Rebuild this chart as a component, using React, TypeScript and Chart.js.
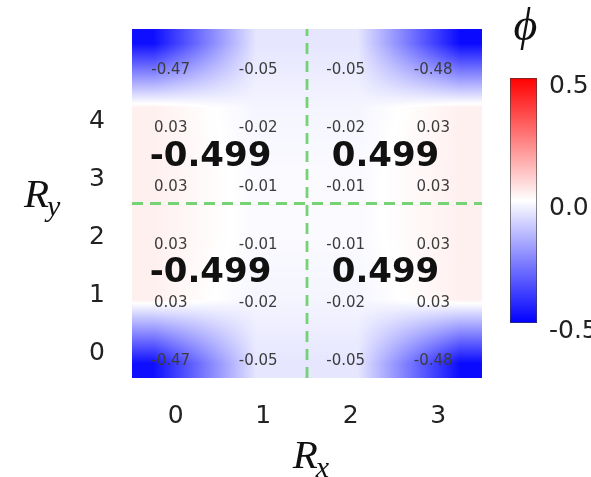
import React, { useEffect, useRef } from "react";
import { Chart, registerables } from "chart.js";

Chart.register(...registerables);

// ---- data ----
const xCategories = [0, 1, 2, 3];
const yTickLabels = [0, 1, 2, 3, 4];
// phi value of every site, rows from R_y = 0 (bottom) to R_y = 5 (top)
const phiRow0 = [-0.47, -0.05, -0.05, -0.48];
const phiRow1 = [0.03, -0.02, -0.02, 0.03];
const phiRow2 = [0.03, -0.01, -0.01, 0.03];
const phiRow3 = [0.03, -0.01, -0.01, 0.03];
const phiRow4 = [0.03, -0.02, -0.02, 0.03];
const phiRow5 = [-0.47, -0.05, -0.05, -0.48];
const phiRows = [phiRow0, phiRow1, phiRow2, phiRow3, phiRow4, phiRow5];
// plaquette values (big bold labels)
const plaquetteX = [0.5, 2.5, 0.5, 2.5];
const plaquetteY = [3.5, 3.5, 1.5, 1.5];
const plaquetteValues = [-0.499, 0.499, -0.499, 0.499];
// dashed dividers
const dividerX = [1.5];
const dividerY = [2.5];
// colour bar
const colorbarTicks = [0.5, 0.0, -0.5];
const vmin = -0.5;
const vmax = 0.5;

const SANS = '"DejaVu Sans", Verdana, sans-serif';
const SERIF = '"Liberation Serif", "DejaVu Serif", serif';

function bwr(v: number): [number, number, number] {
  let t = (v - vmin) / (vmax - vmin);
  t = Math.max(0, Math.min(1, t));
  if (t < 0.5) {
    const k = Math.round(2 * t * 255);
    return [k, k, 255];
  }
  const k = Math.round((2 - 2 * t) * 255);
  return [255, k, k];
}

// smooth (bilinear, image-style) rendering of the site grid
const heatmapPlugin = {
  id: "heatmap",
  beforeDatasetsDraw(chart: any) {
    const ctx = chart.ctx;
    const xs = chart.scales.x;
    const ys = chart.scales.y;
    const nCols = xCategories.length;
    const nRows = phiRows.length;
    const left = Math.round(xs.getPixelForValue(-0.5));
    const right = Math.round(xs.getPixelForValue(nCols - 0.5));
    const top = Math.round(ys.getPixelForValue(nRows - 0.5));
    const bottom = Math.round(ys.getPixelForValue(-0.5));
    const W = right - left;
    const H = bottom - top;
    const cw = W / nCols;
    const ch = H / nRows;
    const m = 0.25; // node inset, in cells
    const off = document.createElement("canvas");
    off.width = W;
    off.height = H;
    const octx = off.getContext("2d")!;
    const img = octx.createImageData(W, H);
    const clamp = (v: number, lo: number, hi: number) => Math.max(lo, Math.min(hi, v));
    for (let py = 0; py < H; py++) {
      const fy = clamp(((py + 0.5) - m * ch) / ((H - 2 * m * ch) / (nRows - 1)), 0, nRows - 1);
      const iy = Math.min(nRows - 2, Math.floor(fy));
      const ty = fy - iy;
      const rTop = phiRows[nRows - 1 - iy];
      const rBot = phiRows[nRows - 2 - iy];
      for (let px = 0; px < W; px++) {
        const fx = clamp(((px + 0.5) - m * cw) / ((W - 2 * m * cw) / (nCols - 1)), 0, nCols - 1);
        const ix = Math.min(nCols - 2, Math.floor(fx));
        const tx = fx - ix;
        const a = rTop[ix] * (1 - tx) + rTop[ix + 1] * tx;
        const b = rBot[ix] * (1 - tx) + rBot[ix + 1] * tx;
        const v = a * (1 - ty) + b * ty;
        const [R, G, B] = bwr(v);
        const idx = (py * W + px) * 4;
        img.data[idx] = R;
        img.data[idx + 1] = G;
        img.data[idx + 2] = B;
        img.data[idx + 3] = 255;
      }
    }
    octx.putImageData(img, 0, 0);
    ctx.save();
    ctx.drawImage(off, left, top);
    ctx.restore();
  },
};

const labelsPlugin = {
  id: "cellLabels",
  afterDatasetsDraw(chart: any) {
    const ctx = chart.ctx;
    const xs = chart.scales.x;
    const ys = chart.scales.y;
    ctx.save();
    ctx.textAlign = "center";
    ctx.textBaseline = "middle";
    ctx.font = `15px ${SANS}`;
    ctx.fillStyle = "#3c3c3c";
    for (let r = 0; r < phiRows.length; r++) {
      for (let c = 0; c < xCategories.length; c++) {
        const x = xs.getPixelForValue(xCategories[c]) - 5;
        const y = ys.getPixelForValue(r - 0.21);
        ctx.fillText(phiRows[r][c].toFixed(2), x, y);
      }
    }
    ctx.font = `bold 34px ${SANS}`;
    ctx.fillStyle = "#111";
    for (let i = 0; i < plaquetteValues.length; i++) {
      const x = xs.getPixelForValue(plaquetteX[i]) - 9;
      const y = ys.getPixelForValue(plaquetteY[i] - 0.2);
      ctx.fillText(plaquetteValues[i].toFixed(3), x, y);
    }
    ctx.restore();
  },
};

const decorPlugin = {
  id: "decor",
  afterDraw(chart: any) {
    const ctx = chart.ctx;
    const area = chart.chartArea;
    ctx.save();
    // colour bar
    const bx0 = area.right + 28;
    const bx1 = bx0 + 27;
    const by0 = area.top + 49;
    const by1 = area.bottom - 55;
    const grad = ctx.createLinearGradient(0, by0, 0, by1);
    const [r1, g1, b1] = bwr(vmax);
    const [r0, g0, b0] = bwr(vmin);
    grad.addColorStop(0, `rgb(${r1},${g1},${b1})`);
    grad.addColorStop(0.5, "rgb(255,255,255)");
    grad.addColorStop(1, `rgb(${r0},${g0},${b0})`);
    ctx.fillStyle = grad;
    ctx.fillRect(bx0, by0, bx1 - bx0, by1 - by0);
    ctx.strokeStyle = "rgba(60,60,60,0.6)";
    ctx.lineWidth = 1;
    ctx.strokeRect(bx0 + 0.5, by0 + 0.5, bx1 - bx0 - 1, by1 - by0 - 1);
    ctx.font = `25px ${SANS}`;
    ctx.fillStyle = "#222";
    ctx.textAlign = "left";
    ctx.textBaseline = "middle";
    for (const v of colorbarTicks) {
      const y = by0 + ((vmax - v) / (vmax - vmin)) * (by1 - by0) + 8;
      ctx.fillText(v.toFixed(1), bx1 + 12, y);
    }
    // phi label
    ctx.font = `italic 46px ${SERIF}`;
    ctx.fillStyle = "#111";
    ctx.textAlign = "center";
    ctx.textBaseline = "alphabetic";
    ctx.fillText("ϕ", (bx0 + bx1) / 2 + 2, 40);

    // axis titles R_x and R_y
    const drawSub = (main: string, sub: string, x: number, y: number, center: boolean) => {
      ctx.font = `italic 41px ${SERIF}`;
      const wMain = ctx.measureText(main).width;
      ctx.font = `italic 30px ${SERIF}`;
      const wSub = ctx.measureText(sub).width;
      const start = center ? x - (wMain + wSub) / 2 : x;
      ctx.textAlign = "left";
      ctx.font = `italic 41px ${SERIF}`;
      ctx.fillText(main, start, y);
      ctx.font = `italic 30px ${SERIF}`;
      ctx.fillText(sub, start + wMain - 2, y + 9);
    };
    drawSub("R", "x", (area.left + area.right) / 2 + 5, area.bottom + 90, true);
    drawSub("R", "y", 24, (area.top + area.bottom) / 2 + 3, false);
    ctx.restore();
  },
};

export default function App() {
  const ref = useRef<HTMLCanvasElement | null>(null);
  useEffect(() => {
    if (!ref.current) return;
    const lineStyle = {
      showLine: true,
      borderColor: "rgba(110,208,110,0.95)",
      borderWidth: 2.8,
      borderDash: [11, 7],
      pointRadius: 0,
      fill: false,
    };
    const chart = new Chart(ref.current, {
      type: "scatter",
      data: {
        datasets: [
          ...dividerX.map((v) => ({
            ...lineStyle,
            data: [
              { x: v, y: -0.5 },
              { x: v, y: 5.5 },
            ],
          })),
          ...dividerY.map((v) => ({
            ...lineStyle,
            data: [
              { x: -0.5, y: v },
              { x: 3.5, y: v },
            ],
          })),
        ],
      },
      options: {
        responsive: false,
        maintainAspectRatio: false,
        animation: false,
        layout: { padding: { left: 0, right: 109, top: 29, bottom: 0 } },
        plugins: { legend: { display: false }, tooltip: { enabled: false } },
        scales: {
          x: {
            type: "linear",
            min: -0.5,
            max: 3.5,
            grid: { display: false, drawTicks: false },
            border: { display: false },
            afterBuildTicks: (s: any) => {
              s.ticks = xCategories.map((v) => ({ value: v }));
            },
            afterFit: (s: any) => {
              s.height = 99;
              s.paddingLeft = 0;
              s.paddingRight = 0;
            },
            ticks: {
              font: { family: SANS, size: 25 },
              color: "#222",
              padding: 23,
              maxRotation: 0,
              autoSkip: false,
              callback: (v: any) => String(v),
            },
          },
          y: {
            type: "linear",
            min: -0.5,
            max: 5.5,
            grid: { display: false, drawTicks: false },
            border: { display: false },
            afterBuildTicks: (s: any) => {
              s.ticks = yTickLabels.map((v) => ({ value: v }));
            },
            afterFit: (s: any) => {
              s.width = 132;
              s.paddingTop = 0;
              s.paddingBottom = 0;
            },
            ticks: {
              font: { family: SANS, size: 25 },
              color: "#222",
              padding: 27,
              labelOffset: 5,
              autoSkip: false,
              callback: (v: any) => String(v),
            },
          },
        },
      } as any,
      plugins: [heatmapPlugin, labelsPlugin, decorPlugin],
    });
    return () => chart.destroy();
  }, []);
  return (
    <div style={{ position: "fixed", left: 0, top: 0, width: 591, height: 477, background: "#fff" }}>
      <canvas ref={ref} width={591} height={477} style={{ display: "block" }} />
    </div>
  );
}
